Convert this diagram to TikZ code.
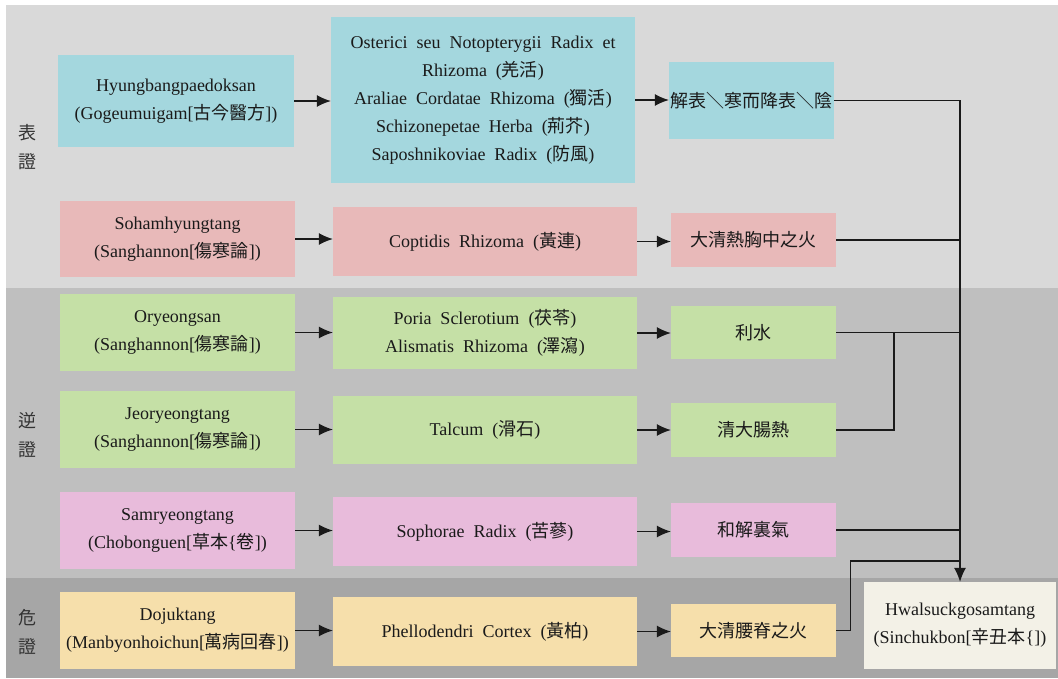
\documentclass[tikz,border=0pt]{standalone}
\usepackage{fontspec}
\setmainfont{Liberation Serif}
\newfontfamily\cjk{Noto Sans CJK KR}
\usetikzlibrary{arrows.meta,calc}
\definecolor{bandA}{HTML}{D9D9D9}
\definecolor{bandB}{HTML}{BFBFBF}
\definecolor{bandC}{HTML}{A6A6A6}
\definecolor{cteal}{HTML}{A4D7DE}
\definecolor{cpink}{HTML}{E8B9B9}
\definecolor{cgreen}{HTML}{C5E0A6}
\definecolor{cviolet}{HTML}{E8BBDB}
\definecolor{cyellow}{HTML}{F6DFAB}
\definecolor{cfinal}{HTML}{F3F1E7}
\definecolor{ink}{HTML}{1A1A1A}
\begin{document}
\begin{tikzpicture}[x=1pt,y=-1pt,
  box/.style={draw=none, align=center, inner sep=0pt, text=ink,
    font=\fontsize{18}{28}\selectfont},
  arr/.style={-{Latex[length=14pt,width=12pt]}, line width=1.2pt, draw=ink},
  ln/.style={line width=1.2pt, draw=ink},
  lab/.style={align=center, inner sep=0pt, text=black!80,
    font=\fontsize{18}{29}\selectfont\cjk}]
\useasboundingbox (0,0) rectangle (1058,678);
\fill[white] (0,0) rectangle (1058,678);
\fill[bandA] (6,5) rectangle (1058,288);
\fill[bandB] (6,288) rectangle (1058,578);
\fill[bandC] (6,578) rectangle (1058,678);

\node[lab] (l1) at (28,147.5) {表\\證};
\node[lab] (l2) at (28,435) {逆\\證};
\node[lab] (l3) at (28,632.5) {危\\證};

% column 1
\node[box, fill=cteal, minimum width=236pt, minimum height=92pt] (h1) at (176,101)
  {Hyungbangpaedoksan\\(Gogeumuigam[{\cjk 古今醫方}])};
\node[box, fill=cpink, minimum width=235pt, minimum height=76pt] (h2) at (177.5,239)
  {Sohamhyungtang\\(Sanghannon[{\cjk 傷寒論}])};
\node[box, fill=cgreen, minimum width=235pt, minimum height=77pt] (h3) at (177.5,332.5)
  {Oryeongsan\\(Sanghannon[{\cjk 傷寒論}])};
\node[box, fill=cgreen, minimum width=235pt, minimum height=77pt] (h4) at (177.5,429.5)
  {Jeoryeongtang\\(Sanghannon[{\cjk 傷寒論}])};
\node[box, fill=cviolet, minimum width=235pt, minimum height=77pt] (h5) at (177.5,530.5)
  {Samryeongtang\\(Chobonguen[{\cjk 草本}\{{\cjk 卷}])};
\node[box, fill=cyellow, minimum width=235pt, minimum height=77pt] (h6) at (177.5,630.5)
  {Dojuktang\\(Manbyonhoichun[{\cjk 萬病回春}])};

% column 2
\node[box, fill=cteal, minimum width=304pt, minimum height=166pt] (c1) at (483,100)
  {Osterici\ \ seu\ \ Notopterygii\ \ Radix\ \ et\\Rhizoma\ \ ({\cjk 羌活})\\Araliae\ \ Cordatae\ \ Rhizoma\ \ ({\cjk 獨活})\\Schizonepetae\ \ Herba\ \ ({\cjk 荊芥})\\Saposhnikoviae\ \ Radix\ \ ({\cjk 防風})};
\node[box, fill=cpink, minimum width=304pt, minimum height=69pt] (c2) at (485,241.5)
  {Coptidis\ \ Rhizoma\ \ ({\cjk 黃連})};
\node[box, fill=cgreen, minimum width=304pt, minimum height=72pt] (c3) at (485,333)
  {Poria\ \ Sclerotium\ \ ({\cjk 茯苓})\\Alismatis\ \ Rhizoma\ \ ({\cjk 澤瀉})};
\node[box, fill=cgreen, minimum width=304pt, minimum height=68pt] (c4) at (485,430)
  {Talcum\ \ ({\cjk 滑石})};
\node[box, fill=cviolet, minimum width=304pt, minimum height=69pt] (c5) at (485,531.5)
  {Sophorae\ \ Radix\ \ ({\cjk 苦蔘})};
\node[box, fill=cyellow, minimum width=304pt, minimum height=69pt] (c6) at (485,631.5)
  {Phellodendri\ \ Cortex\ \ ({\cjk 黃柏})};

% column 3
\node[box, fill=cteal, minimum width=165pt, minimum height=77pt, font=\fontsize{18}{28}\selectfont\cjk] (e1) at (751.5,100.5) {解表＼寒而降表＼陰};
\node[box, fill=cpink, minimum width=165pt, minimum height=54pt, font=\fontsize{18}{28}\selectfont\cjk] (e2) at (753.5,240) {大清熱胸中之火};
\node[box, fill=cgreen, minimum width=165pt, minimum height=53pt, font=\fontsize{18}{28}\selectfont\cjk] (e3) at (753.5,332.5) {利水};
\node[box, fill=cgreen, minimum width=165pt, minimum height=54pt, font=\fontsize{18}{28}\selectfont\cjk] (e4) at (753.5,430) {清大腸熱};
\node[box, fill=cviolet, minimum width=165pt, minimum height=54pt, font=\fontsize{18}{28}\selectfont\cjk] (e5) at (753.5,530) {和解裏氣};
\node[box, fill=cyellow, minimum width=165pt, minimum height=53pt, font=\fontsize{18}{28}\selectfont\cjk] (e6) at (753.5,630.5) {大清腰脊之火};

% final
\node[box, fill=cfinal, minimum width=192pt, minimum height=87pt] (f) at (960,625.5)
  {Hwalsuckgosamtang\\(Sinchukbon[{\cjk 辛丑本}\{])};

% arrows col1 -> col2 -> col3
\foreach \a/\b in {h1/c1,h2/c2,h3/c3,h4/c4,h5/c5,h6/c6,c1/e1,c2/e2,c3/e3,c4/e4,c5/e5,c6/e6}
  \draw[arr] (\a.east) -- (\a.east -| \b.west);

% collector
\coordinate (k) at (960,561);
\coordinate (j) at (894,332.5);
\draw[arr] (e1.east) -| (f.north);
\draw[ln] (e2.east) -- (e2.east -| f.north);
\draw[ln] (e3.east) -- (e3.east -| f.north);
\draw[ln] (e4.east) -| (j);
\draw[ln] (e5.east) -- (e5.east -| f.north);
\draw[ln] (e6.east) -- ++(14,0) |- (k);
\end{tikzpicture}
\end{document}
